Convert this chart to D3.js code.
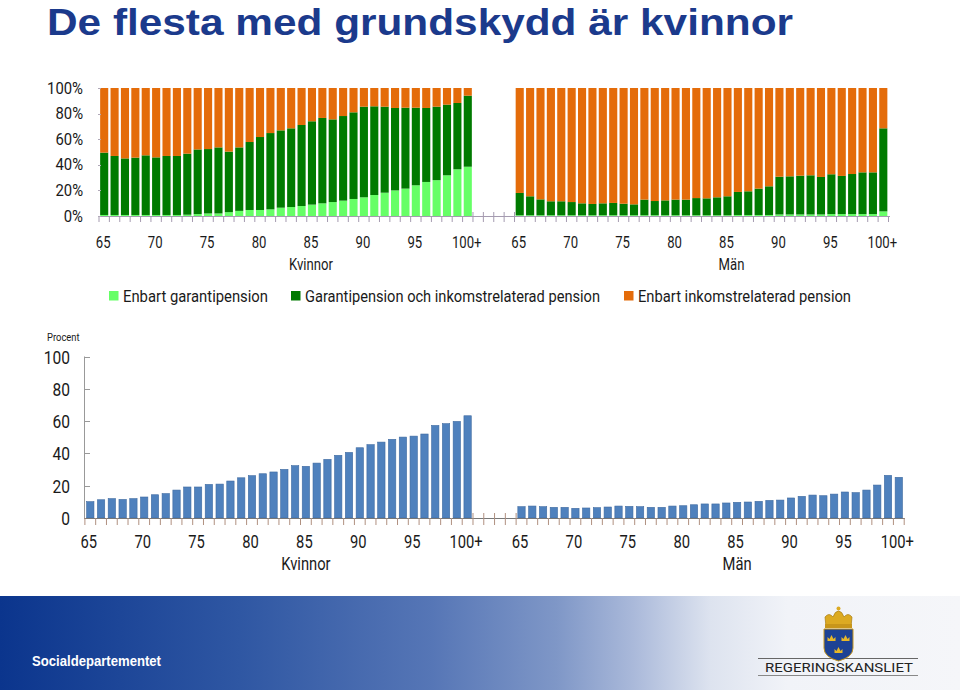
<!DOCTYPE html>
<html><head><meta charset="utf-8">
<script src="https://cdn.jsdelivr.net/npm/d3@7"></script>
<style>body{margin:0;background:#fff;} svg{display:block;}</style>
</head><body>
<svg id="c" width="960" height="690"></svg>
<script>
// ---------- DATA ----------
const ageLabels = ["65","66","67","68","69","70","71","72","73","74","75","76","77","78","79","80","81","82","83","84","85","86","87","88","89","90","91","92","93","94","95","96","97","98","99","100+"];
const tickLabels = ["65","70","75","80","85","90","95","100+"];
const groups = ["Kvinnor","Män"];
const legendLabels = ["Enbart garantipension","Garantipension och inkomstrelaterad pension","Enbart inkomstrelaterad pension"];

// Top chart: shares (%) per age
const womenGarOnly = [0.8,0.8,0.8,0.8,0.8,0.8,0.8,0.8,1.0,1.5,2.0,2.0,3.0,4.0,4.7,4.7,5.2,6.5,7.0,7.8,8.9,9.9,10.9,12.0,13.3,14.6,16.4,18.2,20.0,21.4,24.0,26.6,28.0,31.8,36.5,38.5];
const womenBoth    = [48.7,46.1,44.2,44.8,46.6,45.0,46.1,46.1,47.7,50.5,50.3,51.6,47.3,49.6,53.1,57.0,59.6,60.4,61.5,63.3,65.1,66.7,64.6,66.1,67.7,70.8,69.3,67.2,64.4,63.2,60.6,57.8,57.4,55.2,51.8,55.5];
const womenIncOnly = [50.5,53.1,55.0,54.4,52.6,54.2,53.1,53.1,51.3,48.0,47.7,46.4,49.7,46.4,42.2,38.3,35.2,33.1,31.5,28.9,26.0,23.4,24.5,21.9,19.0,14.6,14.3,14.6,15.6,15.4,15.4,15.6,14.6,13.0,11.7,6.0];
const menGarOnly   = [0.6,0.6,0.6,0.6,0.6,0.6,0.6,0.6,0.6,0.6,0.6,0.6,0.6,0.6,0.6,0.6,0.6,0.6,0.6,0.6,0.6,0.8,0.8,0.8,0.8,1.2,1.2,1.2,1.2,1.2,1.5,1.5,1.5,1.5,1.5,3.6];
const menBoth      = [17.4,14.8,12.4,10.9,10.9,10.3,9.3,8.8,9.3,9.6,9.0,8.5,12.2,11.1,11.6,12.2,12.2,13.4,13.2,14.0,14.8,18.0,18.5,20.6,22.4,29.5,29.8,30.3,30.6,29.3,31.1,29.8,31.3,32.6,32.6,64.9];
const menIncOnly   = [82.0,84.6,87.0,88.5,88.5,89.1,90.1,90.6,90.1,89.8,90.4,90.9,87.2,88.3,87.8,87.2,87.2,86.0,86.2,85.4,84.6,81.2,80.7,78.6,76.8,69.3,69.0,68.5,68.2,69.5,67.4,68.7,67.2,65.9,65.9,31.5];

// Bottom chart: Procent
const womenPct = [10.1,11.3,12.0,11.5,12.0,13.0,14.4,15.1,17.3,19.2,19.2,20.8,21.0,22.9,24.9,26.2,27.4,28.5,30.1,32.4,32.0,34.0,36.3,38.8,40.6,43.5,45.4,47.0,48.7,50.1,50.7,52.0,57.3,58.4,59.8,63.3];
const menPct   = [7.0,7.4,7.0,6.6,6.6,6.0,6.2,6.4,6.8,7.4,7.2,7.0,6.6,6.6,7.4,7.6,8.2,8.7,8.7,9.3,9.7,9.9,10.3,10.9,11.1,12.4,13.4,14.2,13.8,14.8,16.1,15.7,17.3,20.4,26.4,25.2];

const topTicks = [0,20,40,60,80,100];
const bottomTicks = [0,20,40,60,80,100];

// ---------- STYLE ----------
const colors = {gar:"#66ff66", both:"#007a00", inc:"#e46c0a", blue:"#4f81bd", blueStroke:"#3f6aa0"};
const font = "Roboto, 'Liberation Sans', sans-serif";
const SX = 0.82; // horizontal compression to mimic a condensed face
const txtColor = "#1a1a1a";
const svg = d3.select("#c");

const wKeys = ageLabels.map((a,i)=>"w"+i);
const gKeys = ["g0","g1","g2","g3"];
const mKeys = ageLabels.map((a,i)=>"m"+i);
const slots = [...wKeys, ...gKeys, ...mKeys];

// ---------- FOOTER ----------
const defs = svg.append("defs");
const grad = defs.append("linearGradient").attr("id","fg").attr("x1","0").attr("x2","1").attr("y1","0").attr("y2","0");
[[0,"#0b358d"],[0.25,"#2f57a3"],[0.45,"#5676b6"],[0.58,"#7f97c7"],[0.66,"#aab9da"],[0.74,"#dde3ef"],[0.82,"#f1f3f8"],[1,"#f5f6f9"]]
  .forEach(([o,c])=>grad.append("stop").attr("offset",o).attr("stop-color",c));
svg.append("rect").attr("x",0).attr("y",596).attr("width",960).attr("height",94).attr("fill","url(#fg)");
svg.append("text").attr("x",32).attr("y",666).attr("fill","#fff")
  .attr("font-family","'Liberation Sans',Arial,sans-serif").attr("font-weight","bold").attr("font-size",14)
  .attr("textLength",129).attr("lengthAdjust","spacingAndGlyphs")
  .text("Socialdepartementet");

// logo
const logo = svg.append("g");
logo.append("line").attr("x1",758).attr("x2",918).attr("y1",658.5).attr("y2",658.5).attr("stroke","#666").attr("stroke-width",1.2);
logo.append("line").attr("x1",758).attr("x2",918).attr("y1",675.5).attr("y2",675.5).attr("stroke","#888").attr("stroke-width",1.2);
logo.append("text").attr("x",765).attr("y",672).attr("fill","#222")
  .attr("font-family",font).attr("font-size",13).attr("textLength",148).attr("lengthAdjust","spacingAndGlyphs").text("REGERINGSKANSLIET");
// crown
logo.append("path").attr("d","M826,627 L825,617 Q829,612 833,617 Q835,611 838.5,611 Q842,611 844,617 Q848,612 852,617 L851,627 Z")
  .attr("fill","#dcaa22").attr("stroke","#a87c12").attr("stroke-width",0.7);
logo.append("circle").attr("cx",838.5).attr("cy",608.5).attr("r",2).attr("fill","#dcaa22");
logo.append("rect").attr("x",825).attr("y",624).attr("width",27).attr("height",4).attr("fill","#c8961a");
// shield
logo.append("path").attr("d","M824,629 L853,629 L853,648 Q853,657 838.5,661 Q824,657 824,648 Z").attr("fill","#1d4294").attr("stroke","#c8961a").attr("stroke-width",1);
[[831.5,638],[845.5,638],[838.5,650]].forEach(([cx,cy])=>{
  logo.append("path").attr("d",`M${cx-4},${cy+3} L${cx-4},${cy-1} L${cx-2},${cy+1} L${cx},${cy-3} L${cx+2},${cy+1} L${cx+4},${cy-1} L${cx+4},${cy+3} Z`).attr("fill","#e8b828");
});

// ---------- TITLE ----------
svg.append("text").attr("x",47).attr("y",34.5).attr("fill","#1b3a8c")
  .attr("font-family","'Liberation Sans',Arial,sans-serif").attr("font-weight","bold").attr("font-size",37)
  .attr("textLength",746).attr("lengthAdjust","spacingAndGlyphs")
  .text("De flesta med grundskydd är kvinnor");

// ---------- TOP CHART ----------
const xT = d3.scaleBand().domain(slots).range([99,888.5]).paddingInner(0.22).paddingOuter(0.11);
const yT = d3.scaleLinear().domain([0,100]).range([216,88]);

const topRows = [];
ageLabels.forEach((a,i)=>{
  topRows.push({key:"w"+i, gar:womenGarOnly[i], both:womenBoth[i], inc:womenIncOnly[i]});
  topRows.push({key:"m"+i, gar:menGarOnly[i], both:menBoth[i], inc:menIncOnly[i]});
});
const series = d3.stack().keys(["gar","both","inc"])(topRows);
const gTop = svg.append("g");
gTop.selectAll("g.s").data(series).join("g").attr("fill",d=>colors[d.key])
  .selectAll("rect").data(d=>d).join("rect")
  .attr("x",d=>xT(d.data.key)).attr("width",xT.bandwidth())
  .attr("y",d=>yT(d[1])).attr("height",d=>yT(d[0])-yT(d[1]));

const stepT = xT.step();
gTop.append("line").attr("x1",98).attr("x2",890).attr("y1",216.5).attr("y2",216.5).attr("stroke","#a59bb0").attr("stroke-width",1);
const tickXsT = slots.map(s=>xT(s)-(stepT-xT.bandwidth())/2).concat([xT(slots[slots.length-1])+xT.bandwidth()+(stepT-xT.bandwidth())/2]);
gTop.selectAll("line.tk").data(tickXsT).join("line").attr("class","tk")
  .attr("x1",d=>d).attr("x2",d=>d)
  .attr("y1",(d,i)=> (i>=36 && i<=40) ? 212 : 216)
  .attr("y2",222).attr("stroke","#a59bb0").attr("stroke-width",1);

gTop.selectAll("line.ytk").data(topTicks).join("line").attr("class","ytk")
  .attr("x1",98).attr("x2",101).attr("y1",d=>Math.round(yT(d))+0.5).attr("y2",d=>Math.round(yT(d))+0.5).attr("stroke","#b0a8b8");

gTop.selectAll("text.yl").data(topTicks).join("text").attr("class","yl")
  .attr("transform",d=>`translate(83,${yT(d)+5.5}) scale(0.9,1)`).attr("text-anchor","end")
  .attr("font-family",font).attr("font-size",16.5).attr("fill",txtColor)
  .text(d=>d+"%");

const labelIdx = tickLabels.map(t=>ageLabels.indexOf(t));
const xlab = [];
labelIdx.forEach((i,k)=>{ xlab.push({key:"w"+i, t:tickLabels[k]}); xlab.push({key:"m"+i, t:tickLabels[k]}); });
gTop.selectAll("text.xl").data(xlab).join("text").attr("class","xl")
  .attr("transform",d=>`translate(${xT(d.key)+xT.bandwidth()/2-1},247.5) scale(${SX},1)`).attr("text-anchor","middle")
  .attr("font-family",font).attr("font-size",16).attr("fill",txtColor).text(d=>d.t);
gTop.selectAll("text.gl").data(groups).join("text").attr("class","gl")
  .attr("transform",(d,i)=>`translate(${xT((i===0?"w":"m")+ageLabels.indexOf("85"))+xT.bandwidth()/2 + (i===0?-1:4)},269.5) scale(${SX},1)`)
  .attr("text-anchor","middle")
  .attr("font-family",font).attr("font-size",16).attr("fill",txtColor).text(d=>d);

// legend
const legX = [109,291,624];
const legW = [145,295,213];
const legKeys = ["gar","both","inc"];
const leg = svg.append("g");
legendLabels.forEach((t,i)=>{
  leg.append("rect").attr("x",legX[i]).attr("y",291).attr("width",9.5).attr("height",9.5).attr("fill",colors[legKeys[i]]);
  leg.append("text").attr("x",legX[i]+14).attr("y",302).attr("font-family",font).attr("font-size",16).attr("fill",txtColor)
    .attr("textLength",legW[i]).attr("lengthAdjust","spacingAndGlyphs").text(t);
});

// ---------- BOTTOM CHART ----------
const xB = d3.scaleBand().domain(slots).range([84.9,904.2]).paddingInner(0.32).paddingOuter(0.16);
const yB = d3.scaleLinear().domain([0,100]).range([518,356.5]);
const botRows = [];
ageLabels.forEach((a,i)=>{
  botRows.push({key:"w"+i, v:womenPct[i]});
  botRows.push({key:"m"+i, v:menPct[i]});
});
const gB = svg.append("g");
gB.selectAll("rect").data(botRows).join("rect")
  .attr("x",d=>xB(d.key)).attr("width",xB.bandwidth())
  .attr("y",d=>yB(d.v)).attr("height",d=>yB(0)-yB(d.v))
  .attr("fill",colors.blue).attr("stroke",colors.blueStroke).attr("stroke-width",0.6);

gB.append("line").attr("x1",84.5).attr("x2",84.5).attr("y1",356.5).attr("y2",518).attr("stroke","#999");
gB.selectAll("line.yt").data(bottomTicks).join("line").attr("class","yt")
  .attr("x1",84.5).attr("x2",90).attr("y1",d=>Math.round(yB(d))+0.5).attr("y2",d=>Math.round(yB(d))+0.5).attr("stroke","#999");
gB.selectAll("text.yl").data(bottomTicks).join("text").attr("class","yl")
  .attr("transform",d=>`translate(70,${yB(d)+7}) scale(${SX},1)`).attr("text-anchor","end")
  .attr("font-family",font).attr("font-size",19).attr("fill",txtColor).text(d=>d);
gB.append("text").attr("transform",`translate(47,340.5) scale(${SX},1)`).attr("font-family",font).attr("font-size",11.5).attr("fill",txtColor).text("Procent");

const stepB = xB.step();
gB.append("line").attr("x1",84).attr("x2",905).attr("y1",518.5).attr("y2",518.5).attr("stroke","#777");
const tickXsB = slots.map(s=>xB(s)-(stepB-xB.bandwidth())/2).concat([xB(slots[slots.length-1])+xB.bandwidth()+(stepB-xB.bandwidth())/2]);
gB.selectAll("line.tk").data(tickXsB).join("line").attr("class","tk")
  .attr("x1",d=>d).attr("x2",d=>d)
  .attr("y1",(d,i)=> (i>=36 && i<=40) ? 513 : 518).attr("y2",525)
  .attr("stroke","#b09080").attr("stroke-width",1);

gB.selectAll("text.xl").data(xlab).join("text").attr("class","xl")
  .attr("transform",d=>`translate(${xB(d.key)+xB.bandwidth()/2-1.5},548) scale(${SX},1)`).attr("text-anchor","middle")
  .attr("font-family",font).attr("font-size",18).attr("fill",txtColor).text(d=>d.t);
gB.selectAll("text.gl").data(groups).join("text").attr("class","gl")
  .attr("transform",(d,i)=>`translate(${xB((i===0?"w":"m")+ageLabels.indexOf("85"))+xB.bandwidth()/2},570) scale(${SX},1)`)
  .attr("text-anchor","middle")
  .attr("font-family",font).attr("font-size",18).attr("fill",txtColor).text(d=>d);
</script>
</body></html>
